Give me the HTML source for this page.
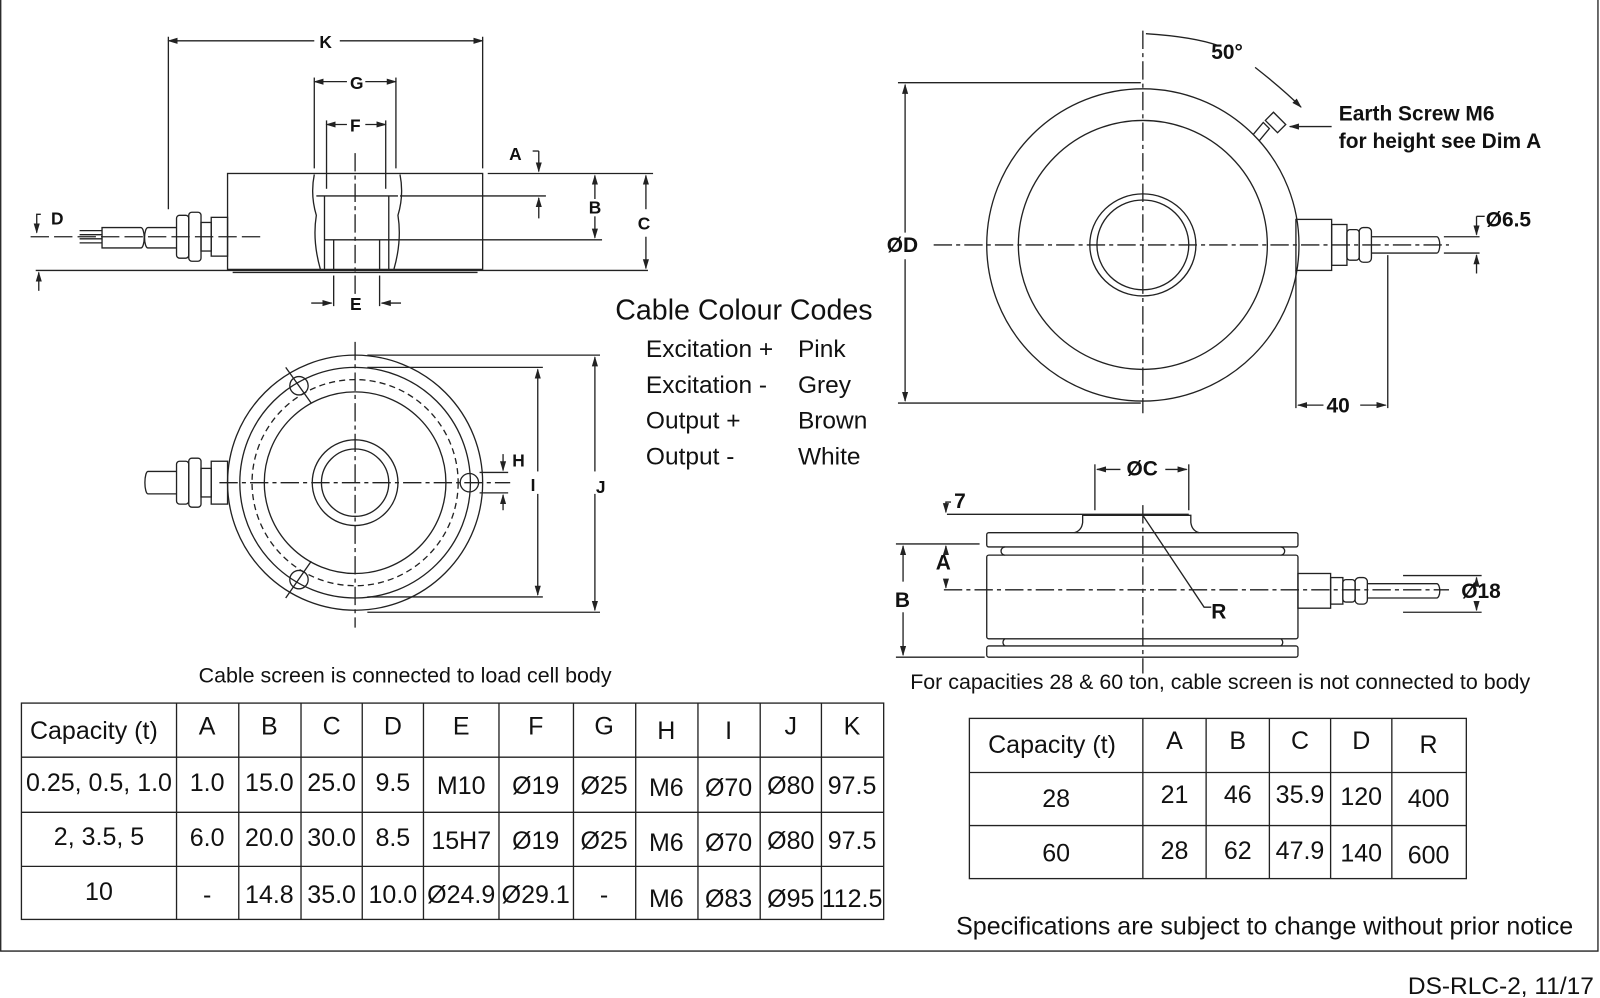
<!DOCTYPE html>
<html><head><meta charset="utf-8"><style>
html,body{margin:0;padding:0;background:#fff;}
svg{display:block;}
text{font-family:"Liberation Sans",Arial,sans-serif;fill:#111;}
</style></head><body>
<svg width="1600" height="998" viewBox="0 0 1568 978" preserveAspectRatio="none" xmlns="http://www.w3.org/2000/svg">
<defs>
<marker id="ar" markerWidth="10" markerHeight="8" refX="9" refY="4" orient="auto-start-reverse" markerUnits="userSpaceOnUse"><path d="M0,1 L10,4 L0,7 Z" fill="#222"/></marker>
</defs>
<g fill="none" stroke="#222" stroke-width="1.3">
<path d="M0.7,0 V932 H1566 V0"/>

<line x1="165" y1="40" x2="308" y2="40" marker-start="url(#ar)"/>
<line x1="333" y1="40" x2="473" y2="40" marker-end="url(#ar)"/>
<line x1="165" y1="36" x2="165" y2="205"/>
<line x1="473" y1="36" x2="473" y2="165"/>
<line x1="308" y1="80" x2="340" y2="80" marker-start="url(#ar)"/>
<line x1="358" y1="80" x2="388" y2="80" marker-end="url(#ar)"/>
<line x1="308" y1="76" x2="308" y2="165"/>
<line x1="388" y1="76" x2="388" y2="165"/>
<line x1="320" y1="122" x2="340" y2="122" marker-start="url(#ar)"/>
<line x1="358" y1="122" x2="378" y2="122" marker-end="url(#ar)"/>
<line x1="320" y1="118" x2="320" y2="185"/>
<line x1="378" y1="118" x2="378" y2="185"/>
<rect x="223" y="170" width="250" height="94"/>
<line x1="228" y1="267" x2="468" y2="267"/>
<line x1="35" y1="265" x2="635" y2="265"/>
<path d="M308,171 q-4,20 2,40 q-4,25 4,53" />
<path d="M392,171 q4,20 -2,40 q4,25 -4,53" />
<line x1="310" y1="192" x2="390" y2="192"/>
<line x1="318" y1="192" x2="318" y2="265"/>
<line x1="381" y1="192" x2="381" y2="265"/>
<line x1="318" y1="235" x2="381" y2="235"/>
<line x1="327" y1="235" x2="327" y2="265"/>
<line x1="372" y1="235" x2="372" y2="265"/>
<line x1="392" y1="192" x2="535" y2="192"/>
<line x1="381" y1="235" x2="590" y2="235"/>
<line x1="348" y1="150" x2="348" y2="290" stroke-dasharray="18,4,4,4"/>
<line x1="478" y1="170" x2="640" y2="170"/>
<line x1="528" y1="148" x2="528" y2="168" marker-end="url(#ar)"/>
<line x1="522" y1="148" x2="528" y2="148"/>
<line x1="528" y1="214" x2="528" y2="194" marker-end="url(#ar)"/>
<line x1="583" y1="195" x2="583" y2="172" marker-end="url(#ar)"/>
<line x1="583" y1="212" x2="583" y2="233" marker-end="url(#ar)"/>
<line x1="633" y1="205" x2="633" y2="172" marker-end="url(#ar)"/>
<line x1="633" y1="232" x2="633" y2="263" marker-end="url(#ar)"/>
<line x1="327" y1="270" x2="327" y2="300"/>
<line x1="372" y1="270" x2="372" y2="300"/>
<line x1="305" y1="297" x2="325" y2="297" marker-end="url(#ar)"/>
<line x1="393" y1="297" x2="374" y2="297" marker-end="url(#ar)"/>
<rect x="173" y="211" width="12" height="42" rx="3"/>
<rect x="185" y="208" width="12" height="48" rx="3"/>
<rect x="197" y="218" width="10" height="28"/>
<rect x="207" y="213" width="16" height="38"/>
<path d="M173,223 H145 a3,9 0 0 0 0,20 H173"/>
<path d="M138,223 H100 V243 H138 a3,9 0 0 0 0,-20"/>
<path d="M100,226 H78 M100,230 H78 M100,234 H78 M100,238 H78"/>
<line x1="30" y1="232" x2="255" y2="232" stroke-dasharray="18,5"/>
<path d="M40,210 H36 V228" marker-end="url(#ar)"/>
<line x1="38" y1="285" x2="38" y2="267" marker-end="url(#ar)"/>

<circle cx="348" cy="473" r="125"/>
<circle cx="348" cy="473" r="113"/>
<circle cx="348" cy="473" r="101" stroke-dasharray="6,4"/>
<circle cx="348" cy="473" r="89"/>
<circle cx="348" cy="473" r="42"/>
<circle cx="348" cy="473" r="33"/>
<circle cx="293" cy="378" r="9"/>
<circle cx="460" cy="473" r="9"/>
<circle cx="293" cy="568" r="9"/>
<line x1="280" y1="360" x2="305" y2="395"/>
<line x1="280" y1="586" x2="305" y2="550"/>
<line x1="348" y1="335" x2="348" y2="615" stroke-dasharray="18,4,4,4"/>
<line x1="215" y1="473" x2="500" y2="473" stroke-dasharray="18,4,4,4"/>
<rect x="173" y="452" width="12" height="42" rx="3"/>
<rect x="185" y="449" width="12" height="48" rx="3"/>
<rect x="197" y="459" width="10" height="28"/>
<rect x="207" y="452" width="16" height="42"/>
<path d="M173,462 H145 a3,11 0 0 0 0,22 H173"/>
<line x1="470" y1="463" x2="498" y2="463"/>
<line x1="470" y1="483" x2="498" y2="483"/>
<line x1="493" y1="445" x2="493" y2="461" marker-end="url(#ar)"/>
<line x1="493" y1="500" x2="493" y2="485" marker-end="url(#ar)"/>
<line x1="360" y1="360" x2="532" y2="360"/>
<line x1="360" y1="585" x2="532" y2="585"/>
<line x1="527" y1="462" x2="527" y2="362" marker-end="url(#ar)"/>
<line x1="527" y1="484" x2="527" y2="583" marker-end="url(#ar)"/>
<line x1="360" y1="348" x2="588" y2="348"/>
<line x1="360" y1="600" x2="588" y2="600"/>
<line x1="583" y1="462" x2="583" y2="350" marker-end="url(#ar)"/>
<line x1="583" y1="484" x2="583" y2="598" marker-end="url(#ar)"/>

<circle cx="1120" cy="240" r="153"/>
<circle cx="1120" cy="240" r="122"/>
<ellipse cx="1120" cy="240" rx="52" ry="50"/>
<ellipse cx="1120" cy="240" rx="45" ry="44"/>
<line x1="1120" y1="30" x2="1120" y2="405" stroke-dasharray="18,4,4,4"/>
<line x1="915" y1="240" x2="1420" y2="240" stroke-dasharray="18,4,4,4"/>
<path d="M1123,33 Q1170,36 1195,45" />
<path d="M1230,66 Q1258,88 1275,105" marker-end="url(#ar)"/>
<path d="M1240,118 l8,-8 12,12 -8,8 z" />
<path d="M1228,132 l10,-12 6,6 -10,12" />
<line x1="1305" y1="124" x2="1264" y2="124" marker-end="url(#ar)"/>
<rect x="1270" y="215" width="35" height="50"/>
<rect x="1305" y="220" width="15" height="40"/>
<rect x="1320" y="225" width="12" height="30" rx="3"/>
<rect x="1332" y="223" width="12" height="34" rx="4"/>
<path d="M1344,232 H1408 M1344,248 H1408 M1408,232 a3,8 0 0 1 0,16"/>
<line x1="1415" y1="232" x2="1450" y2="232"/>
<line x1="1415" y1="248" x2="1450" y2="248"/>
<line x1="1447" y1="212" x2="1447" y2="230" marker-end="url(#ar)"/>
<line x1="1447" y1="268" x2="1447" y2="250" marker-end="url(#ar)"/>
<line x1="1447" y1="212" x2="1455" y2="212"/>
<line x1="880" y1="81" x2="1118" y2="81"/>
<line x1="880" y1="395" x2="1118" y2="395"/>
<line x1="887" y1="228" x2="887" y2="83" marker-end="url(#ar)"/>
<line x1="887" y1="254" x2="887" y2="393" marker-end="url(#ar)"/>
<line x1="1270" y1="265" x2="1270" y2="400"/>
<line x1="1360" y1="250" x2="1360" y2="400"/>
<line x1="1297" y1="397" x2="1272" y2="397" marker-end="url(#ar)"/>
<line x1="1333" y1="397" x2="1358" y2="397" marker-end="url(#ar)"/>

<rect x="967" y="522" width="305" height="14" rx="2"/>
<rect x="967" y="544" width="305" height="82" rx="2"/>
<rect x="967" y="633" width="305" height="11" rx="2"/>
<path d="M985,536 a4,4 0 0 0 0,8 M1255,536 a4,4 0 0 1 0,8 M985,626 a4,4 0 0 0 0,7 M1255,626 a4,4 0 0 1 0,7"/>
<path d="M1053,522 Q1060,520 1061,512 V505 H1167 V512 Q1168,520 1175,522"/>
<line x1="1073" y1="455" x2="1073" y2="500"/>
<line x1="1165" y1="455" x2="1165" y2="500"/>
<line x1="1098" y1="460" x2="1075" y2="460" marker-end="url(#ar)"/>
<line x1="1142" y1="460" x2="1163" y2="460" marker-end="url(#ar)"/>
<line x1="928" y1="504" x2="1165" y2="504"/>
<path d="M932,492 H927 V502" marker-end="url(#ar)"/>
<line x1="878" y1="533" x2="960" y2="533"/>
<line x1="878" y1="644" x2="965" y2="644"/>
<line x1="927" y1="540" x2="927" y2="535" marker-end="url(#ar)"/>
<line x1="927" y1="570" x2="927" y2="576" marker-end="url(#ar)"/>
<line x1="925" y1="578" x2="1420" y2="578" stroke-dasharray="18,4,4,4"/>
<line x1="1120" y1="495" x2="1120" y2="660" stroke-dasharray="18,4,4,4"/>
<line x1="885" y1="570" x2="885" y2="535" marker-end="url(#ar)"/>
<line x1="885" y1="600" x2="885" y2="642" marker-end="url(#ar)"/>
<path d="M1120,505 L1180,595 H1187"/>
<rect x="1272" y="562" width="32" height="34"/>
<rect x="1304" y="566" width="12" height="26"/>
<rect x="1316" y="568" width="12" height="22" rx="3"/>
<rect x="1328" y="566" width="12" height="26" rx="4"/>
<path d="M1340,572 H1408 M1340,586 H1408 M1408,572 a3,7 0 0 1 0,14"/>
<line x1="1375" y1="564" x2="1452" y2="564"/>
<line x1="1375" y1="600" x2="1452" y2="600"/>
<line x1="1447" y1="572" x2="1447" y2="566" marker-end="url(#ar)"/>
<line x1="1447" y1="592" x2="1447" y2="598" marker-end="url(#ar)"/>

<rect x="21" y="689" width="845" height="212"/>
<path d="M21,742 H866 M21,796 H866 M21,849 H866"/>
<path d="M173,689 V901 M234,689 V901 M295,689 V901 M355,689 V901 M415,689 V901 M489,689 V901 M562,689 V901 M623,689 V901 M684,689 V901 M745,689 V901 M805,689 V901"/>
<rect x="950" y="704" width="487" height="157"/>
<path d="M950,757 H1437 M950,809 H1437"/>
<path d="M1120,704 V861 M1182,704 V861 M1244,704 V861 M1304,704 V861 M1364,704 V861"/>
</g>

<g font-size="17" font-weight="bold">
<text x="313" y="47">K</text>
<text x="343" y="87">G</text>
<text x="343" y="129">F</text>
<text x="499" y="157">A</text>
<text x="577" y="209">B</text>
<text x="625" y="225">C</text>
<text x="50" y="220">D</text>
<text x="343" y="304">E</text>
<text x="502" y="457">H</text>
<text x="520" y="481">I</text>
<text x="584" y="483">J</text>
</g>
<g font-size="20.5" font-weight="bold">
<text x="1187" y="58">50°</text>
<text x="1312" y="118">Earth Screw M6</text>
<text x="1312" y="145">for height see Dim A</text>
<text x="869" y="247">ØD</text>
<text x="1456" y="222">Ø6.5</text>
<text x="1300" y="404">40</text>
<text x="1104" y="466">ØC</text>
<text x="935" y="498">7</text>
<text x="917" y="558">A</text>
<text x="877" y="595">B</text>
<text x="1187" y="606">R</text>
<text x="1432" y="586">Ø18</text>
</g>
<text x="603" y="313" font-size="28">Cable Colour Codes</text>
<g font-size="24">
<text x="633" y="350">Excitation +</text><text x="782" y="350">Pink</text>
<text x="633" y="385">Excitation -</text><text x="782" y="385">Grey</text>
<text x="633" y="420">Output +</text><text x="782" y="420">Brown</text>
<text x="633" y="455">Output -</text><text x="782" y="455">White</text>
</g>
<text x="397" y="669" font-size="21" text-anchor="middle">Cable screen is connected to load cell body</text>
<text x="892" y="675" font-size="21">For capacities 28 &amp; 60 ton, cable screen is not connected to body</text>
<text x="937" y="916" font-size="24.5">Specifications are subject to change without prior notice</text>
<text x="1562" y="974" font-size="24" text-anchor="end">DS-RLC-2, 11/17</text>

<g font-size="24.5" text-anchor="middle">
<text x="92" y="724">Capacity (t)</text><text x="203" y="720">A</text><text x="264" y="720">B</text><text x="325" y="720">C</text><text x="385" y="720">D</text><text x="452" y="720">E</text><text x="525" y="720">F</text><text x="592" y="720">G</text><text x="653" y="724">H</text><text x="714" y="724">I</text><text x="775" y="720">J</text><text x="835" y="720">K</text>
<text x="97" y="775">0.25, 0.5, 1.0</text><text x="203" y="775">1.0</text><text x="264" y="775">15.0</text><text x="325" y="775">25.0</text><text x="385" y="775">9.5</text><text x="452" y="778">M10</text><text x="525" y="778">Ø19</text><text x="592" y="778">Ø25</text><text x="653" y="780">M6</text><text x="714" y="780">Ø70</text><text x="775" y="778">Ø80</text><text x="835" y="778">97.5</text>
<text x="97" y="828">2, 3.5, 5</text><text x="203" y="829">6.0</text><text x="264" y="829">20.0</text><text x="325" y="829">30.0</text><text x="385" y="829">8.5</text><text x="452" y="832">15H7</text><text x="525" y="832">Ø19</text><text x="592" y="832">Ø25</text><text x="653" y="834">M6</text><text x="714" y="834">Ø70</text><text x="775" y="832">Ø80</text><text x="835" y="832">97.5</text>
<text x="97" y="882">10</text><text x="203" y="885">-</text><text x="264" y="885">14.8</text><text x="325" y="885">35.0</text><text x="385" y="885">10.0</text><text x="452" y="885">Ø24.9</text><text x="525" y="885">Ø29.1</text><text x="592" y="885">-</text><text x="653" y="889">M6</text><text x="714" y="889">Ø83</text><text x="775" y="889">Ø95</text><text x="835" y="889">112.5</text>
<text x="1031" y="738">Capacity (t)</text><text x="1151" y="734">A</text><text x="1213" y="734">B</text><text x="1274" y="734">C</text><text x="1334" y="734">D</text><text x="1400" y="738">R</text>
<text x="1035" y="791">28</text><text x="1151" y="787">21</text><text x="1213" y="787">46</text><text x="1274" y="787">35.9</text><text x="1334" y="789">120</text><text x="1400" y="791">400</text>
<text x="1035" y="844">60</text><text x="1151" y="842">28</text><text x="1213" y="842">62</text><text x="1274" y="842">47.9</text><text x="1334" y="844">140</text><text x="1400" y="846">600</text>
</g>
</svg>
</body></html>
